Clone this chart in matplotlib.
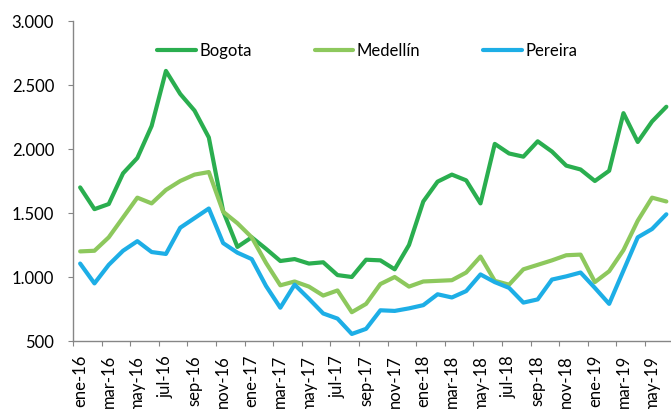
import matplotlib.pyplot as plt
from matplotlib.ticker import FixedLocator, FuncFormatter

# monthly series, ene-16 .. jun-19
meses = ['ene', 'feb', 'mar', 'abr', 'may', 'jun', 'jul', 'ago', 'sep', 'oct', 'nov', 'dic']
periodos = [f'{m}-{a}' for a in ('16', '17', '18', '19') for m in meses][:42]

bogota = [1700, 1530, 1570, 1810, 1930, 2180, 2610, 2430, 2300, 2090,
          1515, 1235, 1310, 1220, 1125, 1140, 1105, 1115, 1015, 1000,
          1135, 1130, 1060, 1250, 1590, 1745, 1800, 1755, 1575, 2040,
          1965, 1940, 2060, 1980, 1870, 1840, 1750, 1830, 2280, 2055,
          2215, 2330]
medellin = [1200, 1205, 1310, 1465, 1620, 1575, 1680, 1750, 1800, 1820,
            1510, 1420, 1310, 1110, 935, 965, 925, 855, 895, 725,
            790, 945, 1000, 925, 965, 970, 975, 1035, 1160, 970,
            940, 1060, 1095, 1130, 1170, 1175, 960, 1045, 1210, 1440,
            1620, 1590]
pereira = [1105, 950, 1095, 1205, 1280, 1195, 1180, 1385, 1460, 1535,
           1265, 1190, 1140, 930, 760, 940, 830, 715, 675, 555,
           595, 740, 735, 755, 780, 865, 840, 890, 1020, 960,
           915, 800, 825, 980, 1005, 1035, 915, 790, 1050, 1310,
           1375, 1490]

plt.rcParams['font.family'] = ['Lato', 'DejaVu Sans']

fig = plt.figure(figsize=(6.71, 4.09), dpi=100)
ax = fig.add_axes([73 / 671, 68 / 409, 600.5 / 671, 320 / 409])

x = list(range(len(periodos)))
ax.plot(x, bogota, color='#2AAE4F', lw=3, label='Bogota', solid_capstyle='round')
ax.plot(x, medellin, color='#8DC85D', lw=3, label='Medellín', solid_capstyle='round')
ax.plot(x, pereira, color='#1DAEE6', lw=3, label='Pereira', solid_capstyle='round')

ax.set_xlim(-0.5, len(periodos) - 0.5)
ax.set_ylim(500, 3000)
ax.set_yticks(range(500, 3001, 500))
ax.yaxis.set_major_formatter(FuncFormatter(lambda v, p: f'{v:,.0f}'.replace(',', '.')))

# ticks between categories, labels under every second month
ax.xaxis.set_major_locator(FixedLocator([i - 0.5 for i in range(0, 41, 2)]))
ax.xaxis.set_major_formatter(FuncFormatter(lambda v, p: ''))
ax.xaxis.set_minor_locator(FixedLocator(list(range(0, 41, 2))))
ax.xaxis.set_minor_formatter(FuncFormatter(lambda v, p: periodos[int(round(v))]))
ax.tick_params(axis='x', which='minor', length=0, labelsize=12, rotation=90, pad=10)
ax.tick_params(axis='x', which='major', length=3.6, color='#868686')
ax.tick_params(axis='y', length=3.6, color='#868686', labelsize=12, pad=10)

for s in ('top', 'right'):
    ax.spines[s].set_visible(False)
for s in ('left', 'bottom'):
    ax.spines[s].set_color('#868686')
    ax.spines[s].set_linewidth(1)

ax.legend(loc='center', bbox_to_anchor=(0.49, 0.907), ncol=3, frameon=False,
          fontsize=12, handlelength=2.3, handletextpad=0.2, columnspacing=3.8)

fig.savefig('out.png', dpi=100)
